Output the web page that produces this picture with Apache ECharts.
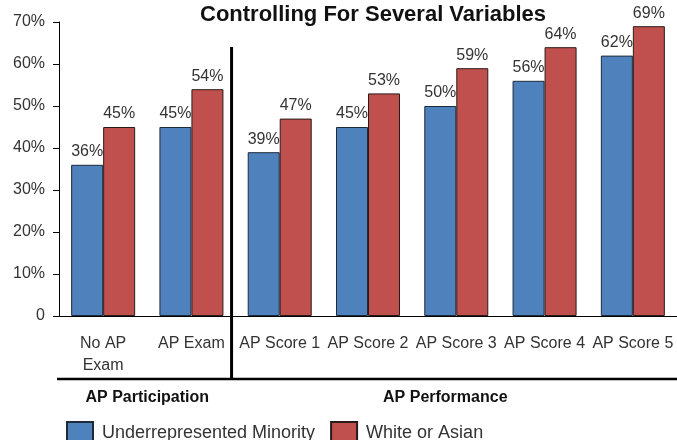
<!DOCTYPE html>
<html>
<head>
<meta charset="utf-8">
<script src="https://cdn.jsdelivr.net/npm/echarts@6/dist/echarts.min.js"></script>
<style>
  html, body { margin: 0; padding: 0; background: #fff; }
  #chart { width: 677px; height: 440px; }
</style>
</head>
<body>
<div id="chart"></div>
<script>
const titleText = 'Controlling For Several Variables';
const categories = ['No AP\nExam', 'AP Exam', 'AP Score 1', 'AP Score 2', 'AP Score 3', 'AP Score 4', 'AP Score 5'];
const minorityName = 'Underrepresented Minority';
const whiteName = 'White or Asian';
const minorityValues = [36, 45, 39, 45, 50, 56, 62];
const whiteValues = [45, 54, 47, 53, 59, 64, 69];
const groupLabels = ['AP Participation', 'AP Performance'];

const FONT = 'Liberation Sans';
const chart = echarts.init(document.getElementById('chart'), null, { renderer: 'canvas' });

const labelCfg = {
  show: true,
  position: 'top',
  distance: 5,
  formatter: '{c}%',
  fontFamily: FONT,
  fontSize: 16,
  color: '#333'
};

const option = {
  animation: false,
  backgroundColor: '#fff',
  textStyle: { fontFamily: FONT },
  title: {
    text: titleText,
    left: 368,
    textAlign: 'center',
    top: -1,
    textStyle: { fontFamily: FONT, fontSize: 22, fontWeight: 'bold', color: '#111' }
  },
  legend: {
    left: 66,
    top: 421,
    icon: 'rect',
    itemWidth: 26,
    itemHeight: 22,
    itemGap: 15,
    padding: 0,
    textStyle: { fontFamily: FONT, fontSize: 18, color: '#333', padding: [0, 0, 0, 4] },
    data: [minorityName, whiteName]
  },
  grid: { left: 59, width: 620, top: 22, bottom: 124 },
  xAxis: {
    type: 'category',
    data: categories,
    axisLine: { lineStyle: { color: '#000', width: 1 } },
    axisTick: { show: false },
    axisLabel: { fontFamily: FONT, fontSize: 16, color: '#333', margin: 17, lineHeight: 22, interval: 0 }
  },
  yAxis: {
    type: 'value',
    min: 0,
    max: 70,
    interval: 10,
    splitLine: { show: false },
    axisLine: { show: true, lineStyle: { color: '#000', width: 1 } },
    axisTick: { show: true, length: 6, lineStyle: { color: '#000' } },
    axisLabel: {
      fontFamily: FONT, fontSize: 16, color: '#333', margin: 14,
      formatter: v => v === 0 ? '0' : v + '%'
    }
  },
  series: [
    {
      name: minorityName,
      type: 'bar',
      data: minorityValues,
      barWidth: 32,
      barGap: '0%',
      itemStyle: { color: '#4f81bd', borderColor: '#1c2a3a', borderWidth: 1 },
      label: labelCfg
    },
    {
      name: whiteName,
      type: 'bar',
      data: whiteValues,
      barWidth: 32,
      barGap: '0%',
      itemStyle: { color: '#c0504d', borderColor: '#2a1a1a', borderWidth: 1 },
      label: labelCfg
    }
  ]
};

chart.setOption(option);

const x1 = chart.convertToPixel({ xAxisIndex: 0 }, categories[1]);
const x2 = chart.convertToPixel({ xAxisIndex: 0 }, categories[2]);
const sepX = (x1 + x2) / 2 - 4;
const xa = chart.convertToPixel({ xAxisIndex: 0 }, categories[0]);
const xg = chart.convertToPixel({ xAxisIndex: 0 }, categories[4]);

chart.setOption({
  graphic: [
    { type: 'line', shape: { x1: sepX, y1: 47, x2: sepX, y2: 380 }, style: { stroke: '#000', lineWidth: 3 } },
    { type: 'line', shape: { x1: 57, y1: 379, x2: 677, y2: 379 }, style: { stroke: '#000', lineWidth: 2.5 } },
    { type: 'text', x: (xa + x1) / 2, y: 398, style: { text: groupLabels[0], fontFamily: FONT, fontSize: 16, fontWeight: 'bold', fill: '#111', align: 'center', verticalAlign: 'middle' } },
    { type: 'text', x: xg - 11, y: 398, style: { text: groupLabels[1], fontFamily: FONT, fontSize: 16, fontWeight: 'bold', fill: '#111', align: 'center', verticalAlign: 'middle' } }
  ]
});
</script>
</body>
</html>
